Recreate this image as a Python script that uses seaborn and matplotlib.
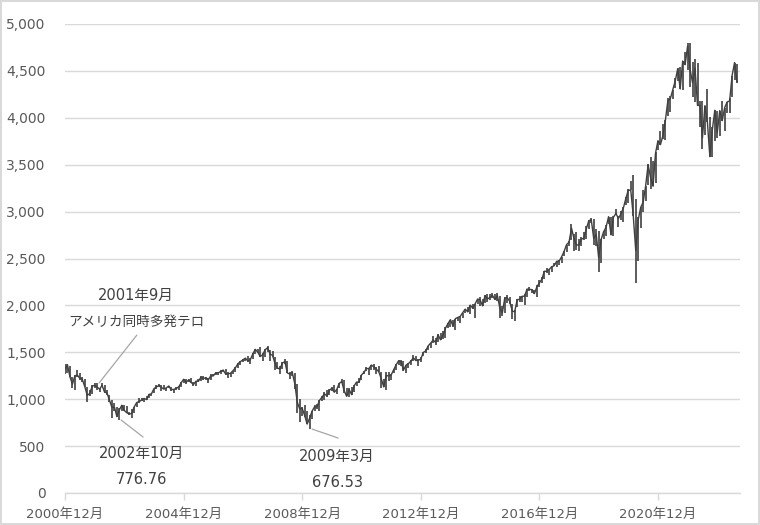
import numpy as np
import matplotlib
matplotlib.use("Agg")
import matplotlib.pyplot as plt
import seaborn as sns

# Monthly (Dec 2000 .. Aug 2023) high / low / close
month_high = [
    1372,
    1373, 1352, 1242, 1257, 1312, 1283, 1234, 1215, 1133, 1102, 1150, 1170,
    1172, 1123, 1171, 1147, 1098, 1049, 990, 963, 917, 901, 938, 934,
    931, 863, 896, 919, 964, 1011, 1015, 1008, 1039, 1051, 1059, 1112,
    1156, 1157, 1156, 1150, 1122, 1145, 1129, 1108, 1129, 1136, 1184, 1214,
    1212, 1211, 1225, 1185, 1198, 1217, 1243, 1245, 1238, 1227, 1269, 1273,
    1295, 1295, 1310, 1312, 1325, 1289, 1280, 1305, 1340, 1389, 1406, 1427,
    1441, 1459, 1436, 1495, 1531, 1540, 1553, 1497, 1531, 1565, 1521, 1516,
    1447, 1395, 1353, 1397, 1427, 1404, 1285, 1305, 1278, 1161, 1005, 912,
    935, 870, 833, 873, 940, 946, 987, 1029, 1072, 1098, 1110, 1128,
    1150, 1109, 1174, 1217, 1202, 1116, 1116, 1128, 1148, 1186, 1226, 1260,
    1300, 1343, 1333, 1364, 1370, 1345, 1353, 1287, 1217, 1285, 1285, 1265,
    1326, 1372, 1417, 1419, 1406, 1362, 1391, 1419, 1466, 1461, 1429, 1446,
    1508, 1531, 1570, 1598, 1669, 1654, 1692, 1709, 1726, 1772, 1808, 1848,
    1849, 1860, 1878, 1891, 1924, 1962, 1988, 2003, 2011, 2018, 2073, 2091,
    2063, 2115, 2118, 2118, 2131, 2124, 2129, 2104, 1996, 2090, 2110, 2092,
    2016, 1952, 2063, 2102, 2099, 2120, 2174, 2191, 2180, 2164, 2214, 2272,
    2299, 2370, 2396, 2392, 2416, 2454, 2478, 2481, 2519, 2581, 2648, 2690,
    2873, 2762, 2787, 2709, 2733, 2786, 2846, 2914, 2931, 2925, 2814, 2790,
    2706, 2793, 2854, 2946, 2946, 2954, 3025, 2954, 3007, 3047, 3153, 3240,
    3330, 3386, 3130, 2940, 3044, 3232, 3276, 3508, 3580, 3535, 3638, 3756,
    3855, 3934, 3974, 4211, 4233, 4298, 4423, 4529, 4537, 4605, 4705, 4793,
    4797, 4590, 4632, 4583, 4175, 4177, 4131, 4305, 4007, 3901, 4080, 4076,
    4077, 4179, 4109, 4169, 4206, 4450, 4589, 4576,
]
month_low = [
    1264,
    1283, 1239, 1117, 1103, 1234, 1208, 1183, 1133, 966, 1038, 1059, 1124,
    1100, 1081, 1131, 1065, 1049, 971, 798, 877, 815, 777, 877, 879,
    855, 829, 801, 858, 916, 964, 976, 965, 995, 1018, 1034, 1061,
    1108, 1128, 1091, 1107, 1085, 1117, 1084, 1063, 1099, 1094, 1130, 1177,
    1163, 1185, 1172, 1138, 1146, 1188, 1194, 1209, 1209, 1177, 1202, 1248,
    1262, 1257, 1273, 1286, 1257, 1223, 1234, 1265, 1294, 1331, 1365, 1395,
    1406, 1399, 1374, 1424, 1483, 1490, 1455, 1407, 1451, 1500, 1407, 1445,
    1310, 1326, 1273, 1325, 1375, 1278, 1215, 1249, 1106, 848, 752, 816,
    805, 735, 677, 794, 878, 893, 879, 979, 994, 1025, 1042, 1091,
    1074, 1056, 1116, 1178, 1067, 1031, 1023, 1047, 1080, 1137, 1178, 1206,
    1269, 1304, 1256, 1312, 1316, 1265, 1292, 1119, 1131, 1099, 1192, 1205,
    1277, 1313, 1365, 1358, 1296, 1278, 1334, 1365, 1403, 1408, 1354, 1398,
    1462, 1495, 1525, 1541, 1597, 1573, 1615, 1631, 1639, 1655, 1762, 1775,
    1774, 1742, 1834, 1816, 1863, 1924, 1931, 1910, 1962, 1862, 2012, 1989,
    1993, 2021, 2040, 2059, 2080, 2058, 2047, 1868, 1882, 1923, 2023, 2013,
    1860, 1829, 1987, 2041, 2041, 2001, 2089, 2157, 2128, 2126, 2085, 2191,
    2238, 2280, 2341, 2329, 2357, 2419, 2409, 2428, 2457, 2529, 2565, 2629,
    2695, 2581, 2588, 2582, 2629, 2699, 2713, 2813, 2877, 2641, 2632, 2351,
    2448, 2707, 2743, 2867, 2752, 2744, 2964, 2840, 2906, 2888, 3067, 3094,
    3226, 2954, 2237, 2470, 2820, 2996, 3115, 3288, 3237, 3270, 3310, 3662,
    3714, 3774, 3768, 4020, 4063, 4202, 4320, 4387, 4307, 4300, 4567, 4513,
    4327, 4225, 4170, 4132, 3901, 3667, 3819, 3955, 3586, 3577, 3749, 3783,
    3808, 3970, 3856, 4055, 4055, 4221, 4398, 4370,
]
month_close = [
    1320,
    1366, 1240, 1160, 1249, 1256, 1224, 1211, 1134, 1041, 1060, 1139, 1148,
    1130, 1107, 1147, 1077, 1067, 990, 912, 916, 815, 886, 936, 880,
    856, 841, 848, 917, 964, 975, 990, 1008, 996, 1051, 1058, 1112,
    1131, 1145, 1126, 1107, 1121, 1141, 1102, 1104, 1115, 1130, 1174, 1212,
    1181, 1204, 1181, 1157, 1192, 1191, 1234, 1220, 1229, 1207, 1249, 1248,
    1280, 1281, 1295, 1311, 1270, 1270, 1277, 1304, 1336, 1378, 1401, 1418,
    1438, 1407, 1421, 1482, 1531, 1503, 1455, 1474, 1527, 1549, 1481, 1468,
    1379, 1331, 1323, 1386, 1400, 1280, 1267, 1283, 1166, 969, 896, 903,
    826, 735, 798, 873, 919, 919, 987, 1021, 1057, 1036, 1096, 1115,
    1074, 1104, 1169, 1187, 1089, 1031, 1102, 1049, 1141, 1183, 1181, 1258,
    1286, 1327, 1326, 1364, 1345, 1321, 1292, 1219, 1131, 1253, 1247, 1258,
    1312, 1366, 1408, 1398, 1310, 1362, 1379, 1407, 1441, 1412, 1416, 1426,
    1498, 1515, 1569, 1598, 1631, 1606, 1686, 1633, 1682, 1757, 1806, 1848,
    1783, 1859, 1872, 1884, 1924, 1960, 1931, 2003, 1972, 2018, 2068, 2059,
    1995, 2105, 2068, 2086, 2107, 2063, 2104, 1972, 1920, 2079, 2080, 2044,
    1940, 1932, 2060, 2065, 2097, 2099, 2174, 2171, 2168, 2126, 2199, 2239,
    2279, 2364, 2363, 2384, 2412, 2423, 2470, 2472, 2519, 2575, 2648, 2674,
    2824, 2714, 2641, 2648, 2705, 2718, 2816, 2902, 2914, 2712, 2760, 2507,
    2704, 2784, 2834, 2946, 2752, 2942, 2980, 2926, 2977, 3038, 3141, 3231,
    3226, 2954, 2585, 2912, 3044, 3100, 3271, 3500, 3363, 3270, 3622, 3756,
    3714, 3811, 3973, 4181, 4204, 4298, 4395, 4523, 4308, 4605, 4567, 4766,
    4516, 4374, 4530, 4132, 4132, 3785, 4130, 3955, 3586, 3872, 4080, 3840,
    4077, 3970, 4109, 4169, 4180, 4450, 4589, 4380,
]
x_tick_labels = ["2000年12月", "2004年12月", "2008年12月",
                 "2012年12月", "2016年12月", "2020年12月"]
y_tick_values = [0, 500, 1000, 1500, 2000, 2500, 3000, 3500, 4000, 4500, 5000]

ann_2001 = ["2001年9月", "アメリカ同時多発テロ"]
ann_2002 = ["2002年10月", "776.76"]
ann_2009 = ["2009年3月", "676.53"]

sns.set_theme(style="white")
# Latin digits from DejaVu Sans (wide, like the original UI font), CJK fallback
plt.rcParams["font.family"] = ["DejaVu Sans", "Noto Sans CJK JP"]

TXT = "#595959"
GRID = "#d9d9d9"
LINE = "#404040"

fig = plt.figure(figsize=(7.6, 5.25), dpi=100)
fig.patch.set_facecolor("white")
fig.patch.set_edgecolor(GRID)
fig.patch.set_linewidth(1.5)
ax = fig.add_axes([65 / 760, 1 - 493 / 525, 675 / 760, 469 / 525])

n = len(month_close)
xs = np.arange(n)
ax.vlines(xs, month_low, month_high, colors=LINE, linewidth=1.2)
sns.lineplot(x=xs, y=month_close, ax=ax, color=LINE, linewidth=1.0)

ax.set_xlim(0, 273.2)
ax.set_ylim(0, 5000)
ax.set_yticks(y_tick_values)
ax.set_yticklabels([f"{v:,}" for v in y_tick_values])
ax.set_xticks(np.arange(len(x_tick_labels)) * 48)
ax.set_xticklabels(x_tick_labels)

ax.yaxis.grid(True, color=GRID, linewidth=1.0)
ax.xaxis.grid(False)
for s in ["left", "right", "top"]:
    ax.spines[s].set_visible(False)
ax.spines["bottom"].set_color(GRID)
ax.spines["bottom"].set_linewidth(1.0)
ax.tick_params(axis="y", length=0, pad=14, labelsize=10, labelcolor=TXT)
ax.tick_params(axis="x", length=5, width=1, color=GRID, pad=6,
               labelsize=9.5, labelcolor=TXT, bottom=True)
ax.set_xlabel("")
ax.set_ylabel("")
ax.set_axisbelow(True)

TC = "#404040"
fs = 10.5
# 2001
ax.text(28.7, 2111, ann_2001[0], ha="center", va="center", fontsize=fs, color=TC)
ax.text(29.0, 1823, ann_2001[1], ha="center", va="center", fontsize=9.8, color=TC)
ax.plot([29.1, 13.8], [1684, 1173], color="#a6a6a6", linewidth=0.9)
# 2002
ax.text(30.8, 426, ann_2002[0], ha="center", va="center", fontsize=fs, color=TC)
ax.text(30.8, 149, ann_2002[1], ha="center", va="center", fontsize=fs, color=TC)
ax.plot([22.7, 31.6], [778, 597], color="#a6a6a6", linewidth=0.9)
# 2009
ax.text(110.1, 394, ann_2009[0], ha="center", va="center", fontsize=fs, color=TC)
ax.text(110.1, 117, ann_2009[1], ha="center", va="center", fontsize=fs, color=TC)
ax.plot([100.0, 110.5], [682, 586], color="#a6a6a6", linewidth=0.9)

fig.savefig("out.png", dpi=100, facecolor="white", edgecolor=fig.get_edgecolor())
